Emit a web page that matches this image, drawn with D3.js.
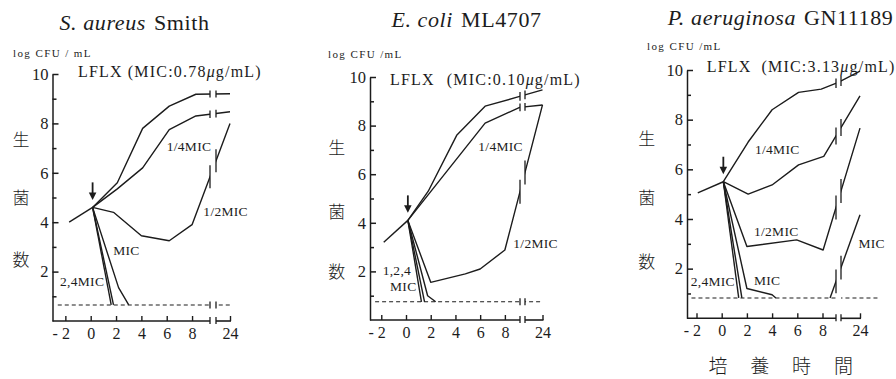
<!DOCTYPE html>
<html><head><meta charset="utf-8">
<script src="https://cdn.jsdelivr.net/npm/d3@7"></script>
<style>body{margin:0;background:#fff} svg{display:block;background:#fff}</style>
</head><body><svg id="c" width="896" height="379"></svg>
<script>
// ---------------- DATA ----------------
const titlesItalic = ["S. aureus", "E. coli", "P. aeruginosa"];
const titlesRoman = ["Smith", "ML4707", "GN11189"];
const micValues = ["0.78", "0.10", "3.13"];
const yMajorTicks = [2, 4, 6, 8, 10];
const yMinorTicks = [1, 3, 5, 7, 9];
const xTicks = [-2, 0, 2, 4, 6, 8, 24];
const yAxisChars = ["生", "菌", "数"];
const xAxisChars = ["培", "養", "時", "間"];

// S. aureus Smith  [time (h), log CFU/mL]
const saPre     = [[-1.7, 4.0], [0.15, 4.6]];
const saControl = [[0.15, 4.6], [2.1, 5.6], [4.1, 7.8], [6.2, 8.7], [8.3, 9.18], [24, 9.2]];
const sa14MIC   = [[0.15, 4.6], [2.1, 5.35], [4.1, 6.2], [6.2, 7.75], [8.3, 8.3], [24, 8.47]];
const sa12MIC   = [[0.15, 4.6], [1.8, 4.4], [4, 3.45], [6.2, 3.25], [8, 3.9], [24, 8.0]];
const sa1MIC    = [[0.15, 4.6], [2.2, 1.35], [3.0, 0.65]];
const sa2MIC    = [[0.15, 4.6], [1.8, 0.65]];
const sa4MIC    = [[0.15, 4.6], [1.62, 0.65]];
const saLimit   = 0.65;

// E. coli ML4707
const ecPre     = [[-1.8, 3.2], [0.15, 4.1]];
const ecControl = [[0.15, 4.1], [1.8, 5.3], [4.1, 7.6], [6.4, 8.8], [9.2, 9.2], [24, 9.47]];
const ec14MIC   = [[0.15, 4.1], [6.4, 8.1], [9.2, 8.75], [24, 8.85]];
const ec12MIC   = [[0.15, 4.1], [2.0, 1.55], [4.8, 1.9], [6, 2.1], [8, 2.88], [24, 8.85]];
const ec1MIC    = [[0.15, 4.1], [1.75, 1.0], [2.4, 0.75]];
const ec2MIC    = [[0.15, 4.1], [1.5, 0.75]];
const ec4MIC    = [[0.15, 4.1], [1.25, 0.75]];
const ecLimit   = 0.75;

// P. aeruginosa GN11189
const paPre     = [[-1.9, 5.05], [0.13, 5.5]];
const paControl = [[0.13, 5.5], [2.1, 7.1], [4, 8.4], [6.1, 9.1], [7.9, 9.23], [9.25, 9.5], [24, 9.95]];
const pa14MIC   = [[0.13, 5.5], [2.1, 5.0], [4, 5.37], [6.1, 6.18], [8.1, 6.52], [24, 8.96]];
const pa12MIC   = [[0.13, 5.5], [2, 2.89], [5.95, 3.16], [8.05, 2.75], [24, 7.66]];
const pa1MIC    = [[0.13, 5.5], [2, 1.2], [4, 0.95], [4.3, 0.82]];
const pa1MICre  = [[8.6, 0.82], [24, 4.17]];
const pa2MIC    = [[0.13, 5.5], [1.6, 0.82]];
const pa4MIC    = [[0.13, 5.5], [1.35, 0.82]];
const paLimit   = 0.82;

const curveLabels1 = [["1/4MIC", 6.0, 6.88], ["1/2MIC", 8.89, 4.25], ["MIC", 1.78, 2.67], ["2,4MIC", -2.42, 1.4]];
const curveLabels2 = [["1/4MIC", 5.85, 6.95], ["1/2MIC", 8.68, 2.96], ["1,2,4", -1.89, 1.85], ["MIC", -1.29, 1.19]];
const curveLabels3 = [["1/4MIC", 2.64, 6.6], ["1/2MIC", 2.56, 3.32], ["MIC", 22.9, 2.83], ["MIC", 2.56, 1.36], ["2,4MIC", -2.46, 1.3]];

// ---------------- LAYOUT ----------------
const layouts = [
  {axisX: 52.5, t0: 90.7, ppu: 12.67, tB: 9.6, x24: 230, gap: [210, 216], y0: 321, y10: 74,
   titleX: 134.5, titleY: 30, logX: 13, logY: 57, logText: "log CFU / mL", lflxX: 78, lflxY: 77, lflxGap: 5,
   kanjiX: 21, kanjiY: [140, 198, 260], dashFrom: -2.6, dashExtra: 0, dashMarks: true,
   series: [saPre, saControl, sa14MIC, sa12MIC, sa1MIC, sa2MIC, sa4MIC], limit: saLimit, labels: curveLabels1},
  {axisX: 370, t0: 406, ppu: 12.36, tB: 9.4, x24: 542.5, gap: [520, 525], y0: 320, y10: 77,
   titleX: 466.5, titleY: 27, logX: 328, logY: 58, logText: "log CFU /mL", lflxX: 390, lflxY: 85, lflxGap: 12,
   kanjiX: 336.7, kanjiY: [148, 211.7, 271.7], dashFrom: -2.5, dashExtra: 0, dashMarks: true,
   series: [ecPre, ecControl, ec14MIC, ec12MIC, ec1MIC, ec2MIC, ec4MIC], limit: ecLimit, labels: curveLabels2},
  {axisX: 687, t0: 721.7, ppu: 12.6, tB: 9.3, x24: 860, gap: [836, 841], y0: 318.3, y10: 70,
   titleX: 780.5, titleY: 25, logX: 647, logY: 50, logText: "log CFU /mL", lflxX: 706.7, lflxY: 72, lflxGap: 10,
   kanjiX: 646.7, kanjiY: [139, 198, 261.7], dashFrom: -2.4, dashExtra: 20, dashMarks: false,
   series: [paPre, paControl, pa14MIC, pa12MIC, pa1MIC, pa1MICre, pa2MIC, pa4MIC], limit: paLimit, labels: curveLabels3}
];

const INK = "#1c1c1c";
const SERIF = "'Liberation Serif','Times New Roman',serif";
const CJK = "'Noto Sans CJK JP','Noto Sans CJK SC',sans-serif";

const svg = d3.select("#c");
const defs = svg.append("defs");
svg.append("rect").attr("width", 896).attr("height", 379).attr("fill", "#fff");

layouts.forEach((L, i) => {
  const g = svg.append("g");
  const xMin = (L.axisX - L.t0) / L.ppu;
  const x = d3.scaleLinear()
    .domain([xMin, L.tB, 24])
    .range([L.axisX, L.t0 + L.tB * L.ppu, L.x24]);
  const y = d3.scaleLinear().domain([0, 10]).range([L.y0, L.y10]);

  // clip excluding break gap
  const cp = defs.append("clipPath").attr("id", "clip" + i);
  cp.append("rect").attr("x", 0).attr("y", 0).attr("width", L.gap[0]).attr("height", 379);
  cp.append("rect").attr("x", L.gap[1]).attr("y", 0).attr("width", 896 - L.gap[1]).attr("height", 379);

  // title
  const tt = g.append("text").attr("x", L.titleX).attr("y", L.titleY)
    .attr("text-anchor", "middle").attr("font-family", SERIF).attr("font-size", 22)
    .attr("letter-spacing", 0.6).attr("fill", INK);
  tt.append("tspan").attr("font-style", "italic").text(titlesItalic[i]);
  tt.append("tspan").attr("dx", 8).text(titlesRoman[i]);

  // log CFU/mL
  g.append("text").attr("x", L.logX).attr("y", L.logY).attr("font-family", SERIF)
    .attr("font-size", 11).attr("letter-spacing", 1.4).attr("fill", INK).text(L.logText);

  // LFLX
  const lt = g.append("text").attr("x", L.lflxX).attr("y", L.lflxY).attr("font-family", SERIF)
    .attr("font-size", 16).attr("letter-spacing", 1.2).attr("fill", INK);
  lt.append("tspan").text("LFLX");
  lt.append("tspan").attr("dx", L.lflxGap).text("(MIC:" + micValues[i]);
  lt.append("tspan").attr("font-style", "italic").text("μ");
  lt.append("tspan").text("g/mL)");

  // y-axis kanji
  yAxisChars.forEach((c, k) => {
    g.append("text").attr("x", L.kanjiX).attr("y", L.kanjiY[k]).attr("dy", "0.36em")
      .attr("text-anchor", "middle").attr("font-family", CJK).attr("font-size", 17)
      .attr("font-weight", 300).attr("fill", INK).text(c);
  });

  // y axis
  const yMaj = g.append("g").attr("transform", `translate(${L.axisX},0)`)
    .call(d3.axisLeft(y).tickValues(yMajorTicks).tickSize(-6).tickSizeOuter(0).tickPadding(4));
  const yMin = g.append("g").attr("transform", `translate(${L.axisX},0)`)
    .call(d3.axisLeft(y).tickValues(yMinorTicks).tickSize(-4).tickFormat(""));
  yMin.select(".domain").remove();
  [yMaj, yMin].forEach(a => {
    a.selectAll("path,line").attr("stroke", INK).attr("stroke-width", 1.5);
    a.selectAll("text").attr("font-family", SERIF).attr("font-size", 16.5).attr("fill", INK)
      .attr("dy", "0.32em");
  });

  // x axis
  const xa = g.append("g").attr("transform", `translate(0,${L.y0})`)
    .call(d3.axisBottom(x).tickValues(xTicks).tickSize(-5).tickPadding(6.5)
      .tickFormat(d => d < 0 ? "- " + (-d) : d));
  xa.select(".domain").remove();
  xa.selectAll("line").attr("stroke", INK).attr("stroke-width", 1.4);
  xa.selectAll("text").attr("font-family", SERIF).attr("font-size", 16).attr("fill", INK)
    .attr("dx", d => d < 0 ? -4.6 : 0);
  const axLine = [[L.axisX, L.gap[0]], [L.gap[1], x(24) + 1]];
  axLine.forEach(s => {
    g.append("line").attr("x1", s[0]).attr("x2", s[1]).attr("y1", L.y0).attr("y2", L.y0)
      .attr("stroke", INK).attr("stroke-width", 1.6);
  });
  L.gap.forEach(gx => {
    g.append("line").attr("x1", gx).attr("x2", gx).attr("y1", L.y0 - 4).attr("y2", L.y0 + 3)
      .attr("stroke", INK).attr("stroke-width", 1.3);
  });

  // helper: draw polyline in screen coords with break
  function drawScreen(sp, opts) {
    const p = g.append("path").attr("d", d3.line()(sp)).attr("fill", "none")
      .attr("stroke", INK).attr("stroke-width", opts.w || 1.3)
      .attr("stroke-linejoin", "round").attr("clip-path", `url(#clip${i})`);
    if (opts.dash) p.attr("stroke-dasharray", opts.dash);
    const xs = sp.map(d => d[0]);
    if (opts.marks !== false && d3.min(xs) < L.gap[0] && d3.max(xs) > L.gap[1]) {
      L.gap.forEach(gx => {
        for (let k = 0; k < sp.length - 1; k++) {
          const a = sp[k], b = sp[k + 1];
          if (a[0] <= gx && b[0] >= gx) {
            const f = (gx - a[0]) / (b[0] - a[0]);
            const yy = a[1] + f * (b[1] - a[1]);
            const slope = Math.abs((b[1] - a[1]) / (b[0] - a[0]));
            const h = Math.min(12, 3.5 + 3 * slope);
            g.append("line").attr("x1", gx).attr("x2", gx).attr("y1", yy - h).attr("y2", yy + h)
              .attr("stroke", INK).attr("stroke-width", 1.3);
            break;
          }
        }
      });
    }
  }

  // detection limit dashed line
  drawScreen([[x(L.dashFrom), y(L.limit)], [x(24) + L.dashExtra, y(L.limit)]],
    {dash: "4,3", w: 1.1, marks: L.dashMarks});

  // curves
  L.series.forEach(s => drawScreen(s.map(d => [x(d[0]), y(d[1])]), {w: 1.4}));

  // arrow at junction
  const J = L.series[1][0];
  const jx = x(J[0]), jy = y(J[1]);
  g.append("line").attr("x1", jx).attr("x2", jx).attr("y1", jy - 25).attr("y2", jy - 13)
    .attr("stroke", INK).attr("stroke-width", 1.8);
  g.append("path").attr("d", `M${jx - 3.8},${jy - 15}L${jx + 3.8},${jy - 15}L${jx},${jy - 7.5}Z`)
    .attr("fill", INK);

  // curve labels
  L.labels.forEach(l => {
    g.append("text").attr("x", x(l[1])).attr("y", y(l[2])).attr("font-family", SERIF)
      .attr("font-size", 13.5).attr("letter-spacing", 0.3).attr("fill", INK).text(l[0]);
  });

  // x-axis title under last panel
  if (i === 2) {
    xAxisChars.forEach((c, k) => {
      g.append("text").attr("x", 718 + k * 41.8).attr("y", 373).attr("text-anchor", "middle")
        .attr("font-family", CJK).attr("font-size", 19).attr("font-weight", 300)
        .attr("fill", INK).text(c);
    });
  }
});
</script>
</body></html>
